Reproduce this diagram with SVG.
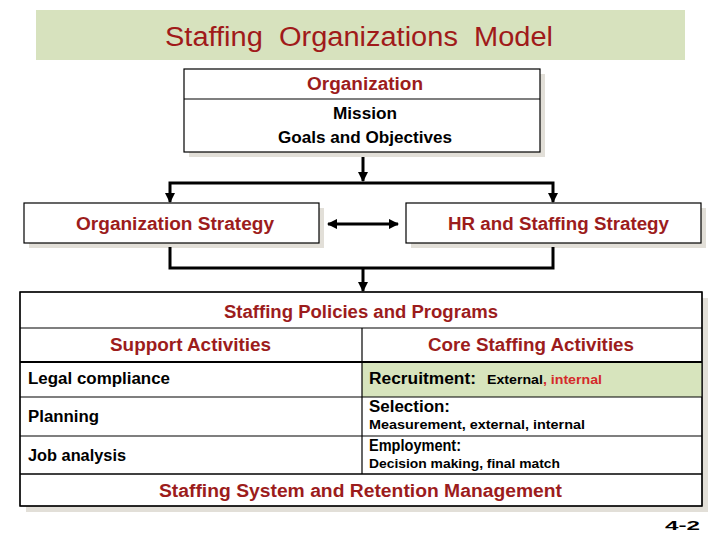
<svg xmlns="http://www.w3.org/2000/svg" width="720" height="540" viewBox="0 0 720 540">
<defs>
<marker id="ah" viewBox="0 0 10 10" refX="9" refY="5" markerWidth="3.5" markerHeight="3.5" orient="auto-start-reverse"><path d="M0,0 L10,5 L0,10 z" fill="#000"/></marker>
<style>
text{font-family:"Liberation Sans",Arial,sans-serif;}
.red{fill:#9c1c1c;font-weight:bold;}
.blk{fill:#000;font-weight:bold;}
.box{fill:#fff;stroke:#000;stroke-width:1.2;}
.sh{fill:#e2dfd8;}
.ln{fill:none;stroke:#000;stroke-width:1.2;}
.con{fill:none;stroke:#000;stroke-width:3;}
</style>
</defs>
<rect width="720" height="540" fill="#fff"/>
<g id="title">
<rect x="36" y="10" width="649" height="50" fill="#d7e2be"/>
<text x="165" y="46" font-size="27" fill="#a01a1a" textLength="388" lengthAdjust="spacingAndGlyphs" xml:space="preserve">Staffing  Organizations  Model</text>
</g>
<g id="organization">
<rect class="sh" x="189" y="74" width="356" height="83"/>
<rect class="box" x="184" y="69" width="356" height="83"/>
<line class="ln" x1="184" y1="99" x2="540" y2="99"/>
<text class="red" x="307" y="90" font-size="18" textLength="116" lengthAdjust="spacingAndGlyphs">Organization</text>
<text class="blk" x="333" y="119" font-size="16" textLength="64" lengthAdjust="spacingAndGlyphs">Mission</text>
<text class="blk" x="278" y="143" font-size="16" textLength="174" lengthAdjust="spacingAndGlyphs">Goals and Objectives</text>
</g>
<g id="org-strategy">
<rect class="sh" x="29" y="208" width="295" height="40"/>
<rect class="box" x="24" y="203" width="295" height="40"/>
<text class="red" x="76" y="230" font-size="18" textLength="198" lengthAdjust="spacingAndGlyphs">Organization Strategy</text>
</g>
<g id="hr-strategy">
<rect class="sh" x="411" y="208" width="295" height="40"/>
<rect class="box" x="406" y="203" width="295" height="40"/>
<text class="red" x="448" y="230" font-size="18" textLength="221" lengthAdjust="spacingAndGlyphs">HR and Staffing Strategy</text>
</g>
<g id="connectors">
<line class="con" x1="363" y1="157" x2="363" y2="181" marker-end="url(#ah)"/>
<polyline class="con" points="170,202 170,183 553,183 553,202" marker-start="url(#ah)" marker-end="url(#ah)"/>
<line class="con" x1="328" y1="224" x2="398" y2="224" marker-start="url(#ah)" marker-end="url(#ah)"/>
<polyline class="con" points="170,247 170,268 553,268 553,247"/>
<line class="con" x1="363" y1="268" x2="363" y2="291" marker-end="url(#ah)"/>
</g>
<g id="staffing-policies">
<rect class="sh" x="26" y="298" width="682" height="214"/>
<rect class="box" x="20" y="292" width="682" height="214"/>
<rect x="362" y="362" width="340" height="35" fill="#d7e4bd"/>
<line class="ln" x1="20" y1="328" x2="702" y2="328"/>
<line x1="20" y1="362" x2="702" y2="362" stroke="#000" stroke-width="2"/>
<line class="ln" x1="20" y1="397" x2="702" y2="397"/>
<line class="ln" x1="20" y1="436" x2="702" y2="436"/>
<line x1="20" y1="474" x2="702" y2="474" stroke="#000" stroke-width="1.6"/>
<line class="ln" x1="362" y1="328" x2="362" y2="474"/>
<rect class="ln" x="20" y="292" width="682" height="214"/>
<text class="red" x="224" y="318" font-size="18" textLength="274" lengthAdjust="spacingAndGlyphs">Staffing Policies and Programs</text>
<text class="red" x="110" y="351" font-size="18" textLength="161" lengthAdjust="spacingAndGlyphs">Support Activities</text>
<text class="red" x="428" y="351" font-size="18" textLength="206" lengthAdjust="spacingAndGlyphs">Core Staffing Activities</text>
<text class="blk" x="28" y="384" font-size="16" textLength="142" lengthAdjust="spacingAndGlyphs">Legal compliance</text>
<text class="blk" x="28" y="422" font-size="16" textLength="71" lengthAdjust="spacingAndGlyphs">Planning</text>
<text class="blk" x="28" y="461" font-size="16" textLength="98" lengthAdjust="spacingAndGlyphs">Job analysis</text>
<text class="blk" x="369" y="384" font-size="16" textLength="107" lengthAdjust="spacingAndGlyphs">Recruitment:</text>
<text class="blk" x="487" y="384" font-size="13" textLength="115" lengthAdjust="spacingAndGlyphs">External<tspan fill="#d42a2a">, internal</tspan></text>
<text class="blk" x="369" y="412" font-size="16" textLength="81" lengthAdjust="spacingAndGlyphs">Selection:</text>
<text class="blk" x="369" y="429" font-size="13" textLength="216" lengthAdjust="spacingAndGlyphs">Measurement, external, internal</text>
<text class="blk" x="369" y="451" font-size="16" textLength="92" lengthAdjust="spacingAndGlyphs">Employment:</text>
<text class="blk" x="369" y="468" font-size="13" textLength="191" lengthAdjust="spacingAndGlyphs">Decision making, final match</text>
<text class="red" x="159" y="497" font-size="18" textLength="403" lengthAdjust="spacingAndGlyphs">Staffing System and Retention Management</text>
</g>
<text class="blk" x="665" y="530" font-size="13" textLength="35" lengthAdjust="spacingAndGlyphs">4-2</text>
</svg>
